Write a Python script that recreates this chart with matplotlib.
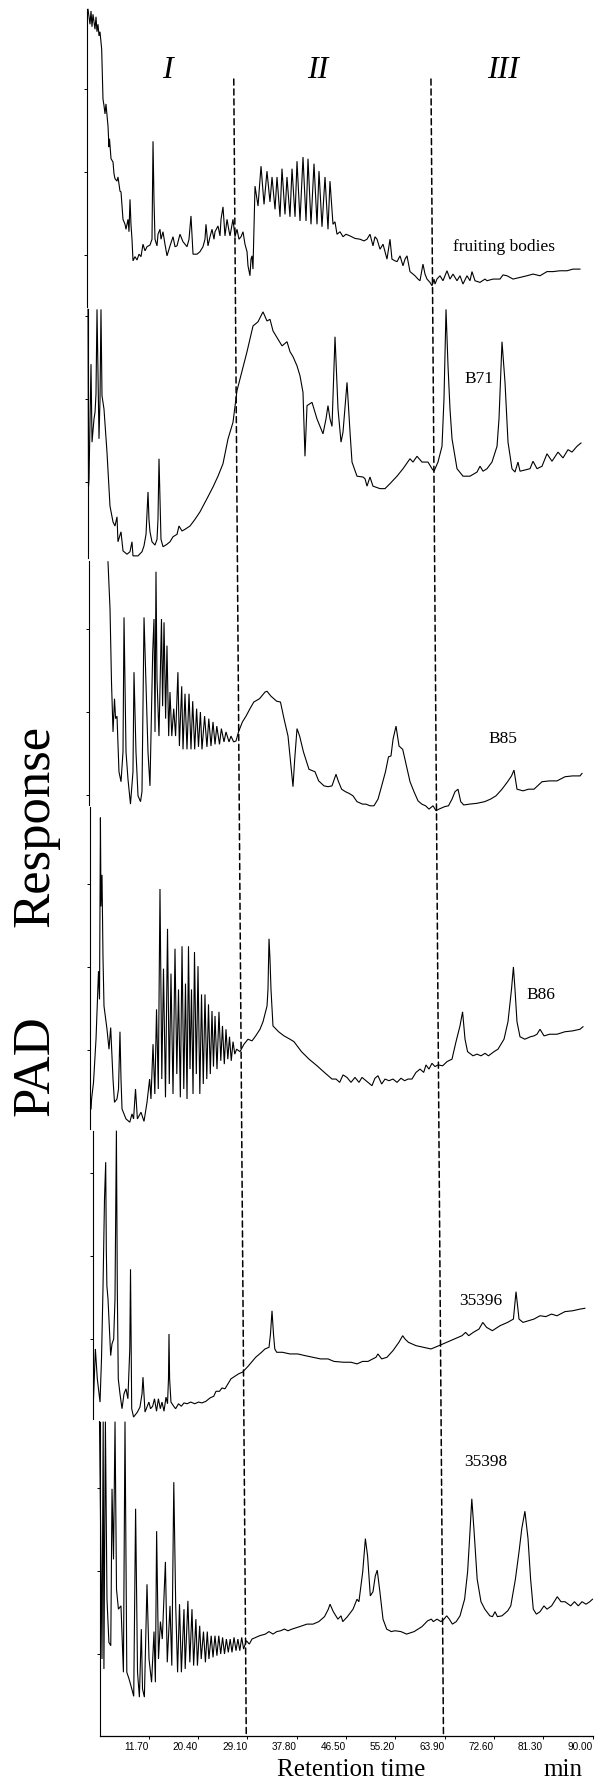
import matplotlib
matplotlib.use("Agg")
import matplotlib.pyplot as plt
from matplotlib.patches import ConnectionPatch

W, H = 599, 1781

# ---- retention-time axis -------------------------------------------------
t_start, t_end = 3.0, 90.0
xtick_values = [11.7, 20.4, 29.1, 37.8, 46.5, 55.2, 63.9, 72.6, 81.3, 90.0]
xtick_labels = ["11.70", "20.40", "29.10", "37.80", "46.50", "55.20",
                "63.90", "72.60", "81.30", "90.00"]
region_bounds = [28.9, 63.7]
region_names = ["I", "II", "III"]
sample_names = ["fruiting bodies", "B71", "B85", "B86", "35396", "35398"]

# ---- PAD traces (retention time in min, response in arbitrary units) ----
fb_time = [3.18, 3.53, 3.71, 3.88, 4.06, 4.41, 4.59, 4.76, 4.94, 5.12,
           5.29, 5.59, 5.82, 6.0, 6.18, 6.35, 6.71, 6.88, 6.97, 7.24,
           7.59, 7.76, 7.94, 8.29, 8.47, 8.82, 9.0, 9.35, 9.71, 9.88,
           10.24, 10.41, 10.59, 10.76, 10.94, 11.12, 11.47, 11.82, 12.18, 12.53,
           12.88, 13.24, 13.59, 14.12, 14.47, 14.65, 14.82, 15.0, 15.35, 15.53,
           15.88, 16.06, 16.41, 16.76, 17.12, 17.65, 18.18, 18.53, 18.88, 19.41,
           19.94, 20.65, 21.0, 21.35, 21.71, 22.41, 22.94, 23.47, 23.82, 24.0,
           24.35, 24.71, 25.06, 25.41, 25.59, 26.12, 26.47, 26.65, 27.0, 27.35,
           27.71, 28.06, 28.24, 28.76, 29.12, 29.47, 29.82, 30.18, 30.53, 30.88,
           31.24, 31.41, 31.76, 31.94, 32.12, 32.29, 32.65, 33.0, 33.18,
           33.71, 34.24, 34.76, 35.29, 35.65, 36.18, 36.53, 37.06, 37.41, 37.94,
           38.29, 38.82, 39.18, 39.71, 40.06, 40.59, 41.12, 41.65, 42.0, 42.53,
           43.06, 43.59, 43.94, 44.47, 45.0, 45.53, 45.88, 46.41,
           46.76, 47.12, 47.65, 48.18, 48.71, 49.41, 50.29, 51.18, 51.88, 52.41,
           52.94, 53.47, 53.82, 54.18, 54.71, 55.24, 55.94, 56.47, 56.82, 57.35,
           57.71, 58.24, 58.76, 59.12, 59.47, 60.0, 60.53, 60.88, 61.41, 61.76,
           62.29, 62.65, 63.0, 63.53, 63.88, 64.24, 64.41, 64.76, 65.29, 65.82,
           66.53, 67.06, 67.59, 68.29, 68.82, 69.35, 70.06, 70.59, 70.94, 71.47,
           72.35, 73.24, 73.59, 74.65, 75.88, 76.41, 77.12, 78.18, 79.41, 80.65,
           81.71, 82.94, 84.18, 85.24, 86.47, 87.71, 88.76, 90.0]
fb_resp = [39.6, 37.8, 39.4, 37.5, 39.0, 37.2, 38.7, 36.9, 37.8, 36.4,
           36.9, 34.8, 28.8, 28.0, 27.0, 28.2, 25.5, 23.0, 24.0, 21.6,
           21.2, 19.8, 19.2, 18.9, 19.4, 17.7, 17.6, 14.3, 13.7, 13.1,
           14.3, 12.8, 16.7, 13.7, 11.9, 9.3, 9.8, 9.4, 10.1, 9.8,
           11.3, 10.5, 11.0, 11.2, 11.9, 23.7, 16.7, 11.9, 11.1, 12.5,
           13.1, 11.9, 12.8, 11.3, 9.9, 11.1, 12.2, 11.0, 11.1, 12.5,
           11.6, 11.0, 11.9, 14.7, 10.1, 10.1, 10.4, 11.0, 11.9, 13.7,
           11.1, 12.2, 13.1, 11.9, 12.8, 13.5, 12.3, 14.3, 15.8, 12.3,
           14.3, 12.9, 12.3, 14.3, 12.2, 13.1, 11.9, 12.2, 12.8, 11.3,
           10.4, 8.7, 7.5, 9.5, 9.9, 8.3, 18.3, 16.7, 15.9,
           20.7, 16.1, 20.1, 16.4, 19.4, 15.5, 19.4, 14.6, 20.4, 14.9,
           19.4, 14.6, 20.4, 14.6, 21.3, 14.1, 21.8, 14.1, 21.6, 13.7,
           21.0, 13.7, 20.1, 13.4, 19.4, 13.1, 18.9, 13.7,
           14.0, 12.5, 12.8, 12.2, 12.5, 12.3, 12.0, 11.9, 11.7, 11.9,
           12.5, 11.1, 12.2, 11.9, 10.7, 11.3, 9.5, 11.9, 9.5, 9.3,
           9.2, 9.9, 8.7, 9.5, 9.9, 8.0, 7.7, 7.5, 7.1, 6.9,
           8.9, 7.7, 7.1, 6.7, 6.3, 7.1, 6.5, 7.1, 7.5, 6.9,
           8.1, 7.1, 7.7, 6.9, 7.5, 6.5, 7.5, 6.9, 8.0, 6.9,
           6.7, 7.1, 6.9, 7.1, 7.1, 7.6, 7.5, 7.1, 7.3, 7.5,
           7.7, 7.5, 8.0, 8.0, 8.1, 8.1, 8.3, 8.3]

b71_time = [3.0, 3.09, 3.18, 3.53, 3.71, 4.06, 4.24, 4.41, 4.59, 4.94,
            5.12, 5.29, 5.47, 5.82, 6.35, 6.88, 7.41, 7.76, 8.12, 8.29,
            8.82, 9.18, 9.88, 10.41, 10.76, 10.94, 11.82, 12.53, 12.88, 13.24,
            13.59, 13.76, 13.94, 14.29, 14.82, 15.18, 15.35, 15.53, 15.71, 15.88,
            16.24, 16.94, 17.47, 18.0, 18.71, 19.06, 19.59, 20.12, 21.0, 21.88,
            22.76, 24.0, 25.06, 25.94, 26.82, 27.71, 28.59, 29.29, 29.82, 31.06,
            32.12, 33.0, 33.88, 34.59, 35.12, 35.65, 36.53, 37.24, 38.12, 38.65,
            39.18, 39.88, 40.41, 40.94, 41.29, 41.65, 42.53, 43.41, 44.47, 45.0,
            45.35, 45.71, 46.06, 46.59, 47.12, 47.65, 48.0, 48.71, 49.24, 49.59,
            50.47, 51.53, 51.88, 52.24, 52.76, 53.29, 54.53, 55.41, 56.29, 57.53,
            58.59, 59.82, 60.35, 61.06, 61.94, 63.0, 63.71, 64.06, 64.76, 65.47,
            65.82, 66.18, 66.53, 66.88, 67.24, 68.12, 69.18, 70.41, 71.65, 72.18,
            72.71, 73.41, 74.29, 75.18, 75.53, 76.06, 76.59, 77.12, 77.82, 78.35,
            78.88, 79.24, 81.0, 81.53, 82.24, 83.12, 84.0, 84.88, 85.94, 86.82,
            87.71, 88.41, 89.29, 90.0]
b71_resp = [30.8, 9.5, 10.4, 24.2, 14.8, 17.6, 18.4, 20.6, 30.8, 15.2,
            20.0, 30.8, 20.4, 18.8, 13.6, 7.1, 5.2, 4.7, 5.8, 2.8,
            4.0, 1.7, 1.3, 1.6, 2.8, 1.1, 1.1, 1.6, 2.3, 3.7,
            8.8, 5.5, 4.0, 2.8, 2.4, 3.1, 5.5, 12.8, 8.0, 3.1,
            2.2, 2.5, 2.8, 3.4, 3.7, 4.7, 4.1, 4.3, 4.7, 5.5,
            6.4, 8.0, 9.4, 10.7, 12.2, 15.2, 17.2, 21.0, 22.4, 25.7,
            28.8, 29.3, 30.5, 29.4, 29.6, 28.2, 27.2, 26.4, 26.9, 25.7,
            25.1, 24.0, 22.8, 20.8, 13.1, 19.2, 19.6, 17.6, 15.8, 17.6,
            19.2, 17.6, 16.7, 27.5, 18.8, 14.8, 16.0, 22.0, 16.0, 12.4,
            10.7, 10.6, 10.4, 9.5, 10.6, 9.5, 9.2, 9.2, 9.8, 10.7,
            11.6, 12.8, 12.4, 13.1, 12.4, 12.4, 11.6, 11.3, 12.4, 14.3,
            20.0, 30.8, 24.0, 18.8, 15.2, 11.6, 10.7, 10.7, 11.2, 11.9,
            11.3, 11.6, 12.4, 14.3, 17.6, 26.9, 22.0, 14.8, 11.6, 11.2,
            12.4, 11.3, 11.6, 12.5, 11.6, 11.9, 13.4, 12.5, 13.6, 12.9,
            13.9, 13.6, 14.3, 14.7]

b85_time = [6.35, 6.71, 6.97, 7.24, 7.5, 7.69, 7.94, 8.29, 8.65, 9.0,
            9.18, 9.53, 9.88, 10.32, 10.76, 10.94, 11.29, 11.65, 12.09, 12.35,
            12.71, 13.06, 13.41, 13.76, 13.94, 14.24, 14.47, 14.65, 14.82, 15.0,
            15.35, 15.53, 15.79, 15.99, 16.24, 16.52, 16.76, 17.06, 17.29, 17.61,
            17.95, 18.28, 18.69, 18.95, 19.36, 19.59, 19.94, 20.29, 20.65, 21.0,
            21.3, 21.65, 21.99, 22.32, 22.66, 22.94, 23.4, 23.81, 24.14, 24.53,
            24.88, 25.24, 25.55, 26.03, 26.36, 26.82, 27.18, 27.71, 28.06, 28.52,
            28.94, 29.38, 30.07, 30.71, 31.41, 32.08, 33.09, 34.06, 34.41, 35.12,
            36.12, 36.79, 37.41, 38.12, 38.65, 39.0, 39.3, 39.71, 40.17, 40.84,
            41.82, 42.88, 43.53, 44.47, 45.18, 45.88, 46.59, 47.03, 47.58, 48.25,
            48.88, 49.59, 50.29, 51.28, 51.88, 52.59, 53.29, 54.0, 54.65, 55.32,
            55.85, 56.29, 56.65, 57.18, 57.71, 58.36, 59.03, 59.65, 60.35, 61.06,
            61.73, 62.4, 63.0, 63.71, 64.24, 64.76, 65.77, 66.44, 67.06, 67.59,
            68.12, 68.6, 69.12, 70.15, 71.47, 72.83, 73.85, 74.82, 75.88, 76.87,
            77.56, 78.0, 78.53, 79.59, 80.58, 81.53, 82.94, 84.28, 85.59, 87.0,
            88.32, 89.65, 90.0]
b85_resp = [38.1, 32.4, 23.6, 17.6, 21.6, 19.2, 19.5, 12.8, 11.6, 15.2,
            31.4, 15.2, 11.9, 8.9, 12.8, 24.8, 15.2, 9.9, 9.2, 10.4,
            31.4, 23.1, 15.2, 11.1, 17.1, 27.2, 31.2, 17.6, 36.9, 24.0,
            17.1, 23.1, 31.2, 20.7, 30.8, 19.2, 28.0, 17.1, 22.4, 17.1,
            20.4, 17.1, 24.8, 15.9, 23.1, 15.5, 22.2, 15.5, 22.2, 15.5,
            21.3, 15.5, 20.4, 15.8, 20.0, 15.5, 19.5, 15.8, 19.2, 15.9,
            18.8, 16.1, 18.3, 16.1, 18.0, 16.4, 17.6, 16.4, 17.1, 16.4,
            16.5, 17.6, 18.8, 19.5, 20.4, 21.2, 21.6, 22.4, 22.5, 21.9,
            21.3, 21.2, 19.2, 17.1, 13.5, 11.0, 14.3, 18.0, 17.1, 15.2,
            13.1, 12.8, 11.7, 11.1, 11.0, 11.1, 12.5, 11.6, 10.7, 10.4,
            10.2, 9.9, 9.2, 8.9, 8.9, 8.7, 8.7, 9.5, 11.1, 12.8,
            14.6, 14.7, 16.7, 18.3, 15.9, 15.5, 13.5, 11.6, 10.4, 9.3,
            8.9, 8.7, 8.3, 8.7, 8.1, 8.3, 8.6, 8.7, 9.5, 10.4,
            10.7, 9.2, 8.8, 8.9, 9.0, 9.2, 9.5, 9.9, 10.7, 11.6,
            12.3, 13.0, 10.7, 10.5, 10.7, 10.7, 11.6, 11.7, 11.7, 12.2,
            12.3, 12.3, 12.6]

b86_time = [3.18, 3.28, 3.62, 4.06, 4.5, 4.68, 4.84, 4.94, 5.12, 5.29,
            5.47, 6.0, 6.35, 6.65, 6.88, 7.06, 7.32, 7.76, 8.03, 8.29,
            8.47, 8.65, 9.35, 10.02, 10.41, 10.69, 11.03, 11.36, 12.0, 12.53,
            13.06, 13.52, 13.76,
            14.12, 14.44, 14.74, 15.05, 15.35, 15.67, 15.97, 16.32, 16.68, 16.99,
            17.29, 17.65, 18.0, 18.32, 18.62, 18.94, 19.24, 19.55, 19.85, 20.12,
            20.38, 20.65, 20.91, 21.18, 21.44, 21.76, 22.06, 22.38, 22.68, 22.99,
            23.29, 23.61, 23.91, 24.23, 24.53, 24.79, 25.06, 25.41, 25.76, 26.08,
            26.38, 26.7, 27.0, 27.32, 27.62, 27.93, 28.24, 28.55, 28.87,
            29.47, 30.18, 30.88, 31.59, 32.24, 33.0, 33.53, 34.24, 34.41, 34.59,
            34.76, 34.94, 35.29, 36.28, 37.24, 38.29, 39.0, 40.32, 41.65, 43.06,
            44.36, 45.71, 46.41, 47.06, 47.65, 48.35, 49.06, 49.76, 50.47, 51.0,
            51.71, 52.76, 53.29, 53.82, 54.47, 55.06, 55.76, 56.47, 57.18, 57.88,
            58.52, 59.12, 59.82, 60.53, 61.24, 61.89, 62.29, 62.82, 63.35, 63.88,
            64.41, 65.24, 66.0, 66.88, 67.59, 68.29, 68.75, 69.18, 69.63, 70.59,
            71.29, 72.0, 72.71, 73.32, 74.29, 75.0, 76.06, 76.76, 77.38, 77.72,
            78.0, 78.35, 78.88, 79.73, 80.74, 81.35, 81.88, 82.41, 83.12, 84.11,
            85.41, 86.82, 88.15, 89.47, 90.0]
b86_resp = [2.9, 4.1, 6.1, 11.3, 19.5, 16.1, 38.0, 27.3, 31.1, 21.3,
            15.3, 12.5, 10.1, 12.7, 9.3, 6.5, 3.7, 4.1, 5.3, 12.2,
            6.5, 2.9, 1.7, 1.3, 2.3, 1.7, 5.3, 1.7, 2.5, 1.4,
            3.7, 6.5, 4.1,
            10.7, 4.7, 14.9, 5.3, 29.4, 6.5, 19.8, 4.3, 24.6, 5.9,
            19.2, 4.7, 22.2, 7.1, 17.3, 4.3, 22.5, 5.3, 18.0, 4.1,
            22.5, 7.7, 17.3, 4.7, 21.8, 7.1, 20.1, 4.7, 16.7, 5.9,
            16.7, 6.5, 15.5, 7.1, 14.7, 8.0, 14.1, 7.7, 14.6, 8.7,
            12.9, 8.3, 12.5, 8.9, 11.6, 8.7, 11.0, 9.5, 10.1,
            9.8, 10.7, 11.3, 11.1, 11.7, 12.5, 13.4, 15.3, 17.3, 23.4,
            21.0, 17.3, 12.9, 12.2, 11.7, 11.3, 11.0, 9.8, 8.9, 8.1,
            7.3, 6.5, 6.5, 6.1, 7.0, 6.7, 6.1, 6.7, 6.1, 6.7,
            6.3, 5.7, 6.6, 6.9, 5.9, 6.5, 6.3, 6.5, 6.1, 6.6,
            6.3, 6.5, 6.5, 7.3, 7.7, 7.3, 8.2, 7.7, 8.4, 8.0,
            8.2, 8.1, 8.6, 8.9, 11.0, 12.9, 14.6, 11.3, 9.8, 9.3,
            9.5, 9.3, 9.6, 9.3, 9.8, 10.1, 11.3, 13.4, 17.3, 20.0,
            17.3, 13.4, 11.6, 11.3, 11.6, 11.7, 11.9, 12.5, 11.7, 11.9,
            11.9, 12.2, 12.3, 12.5, 12.8]

s35396_time = [3.09, 3.42, 3.76, 4.24, 4.5, 4.76, 5.03, 5.24, 5.35, 5.45,
               5.65, 5.82, 6.12, 6.35, 6.65, 6.88, 7.13, 7.29, 7.46, 7.76,
               8.12, 8.47, 8.82, 9.16, 9.49, 9.62, 9.74, 9.83, 10.16, 10.84,
               11.29, 11.65, 11.82, 12.0, 12.18, 12.86, 13.15, 13.53, 13.85, 14.21,
               14.54, 14.88, 15.18, 15.53, 15.88, 16.15, 16.32, 16.41, 16.52, 16.76,
               17.24, 17.58, 18.09, 18.58, 19.06, 19.59, 20.26, 20.95, 21.62, 22.24,
               22.94, 23.65, 24.3, 24.71, 25.32, 25.76, 26.29, 26.82, 27.35, 28.0,
               28.68, 29.37, 30.35, 31.71, 32.74, 33.35, 34.06, 34.32, 34.59, 34.85,
               35.08, 35.42, 36.42, 37.76, 39.12, 40.41, 41.82, 43.16, 44.47, 45.53,
               47.21, 48.53, 49.59, 50.58, 51.53, 52.94, 53.28, 53.95, 54.88, 55.94,
               56.98, 57.65, 58.06, 58.66, 60.0, 61.36, 62.65, 64.06, 65.4, 66.71,
               68.12, 68.75, 69.3, 70.11, 71.12, 71.79, 72.46, 73.48, 74.82, 76.16,
               77.19, 77.65, 78.18, 78.88, 79.87, 80.82, 81.88, 82.91, 83.91, 84.88,
               86.29, 87.62, 88.94, 89.8]
s35396_resp = [2.8, 8.8, 5.2, 2.4, 7.6, 16.0, 26.9, 31.3, 20.8, 16.4,
               14.8, 12.4, 8.0, 9.4, 10.0, 14.8, 35.1, 16.0, 5.2, 3.4,
               1.6, 3.4, 4.0, 2.8, 8.8, 18.4, 8.8, 1.6, 0.6, 1.2,
               1.8, 3.4, 5.4, 3.4, 1.2, 2.4, 1.6, 1.9, 2.8, 1.3,
               2.8, 1.6, 2.4, 1.3, 3.0, 2.2, 5.2, 10.6, 5.2, 2.4,
               1.9, 1.6, 2.2, 1.9, 2.3, 2.2, 2.4, 2.2, 2.4, 2.3,
               2.5, 2.9, 3.1, 3.7, 3.7, 4.1, 4.0, 4.6, 5.2, 5.5,
               5.8, 6.0, 6.7, 7.8, 8.4, 8.8, 9.0, 10.6, 13.4, 10.6,
               8.8, 8.4, 8.4, 8.2, 8.2, 8.0, 7.8, 7.6, 7.6, 7.3,
               7.2, 7.2, 7.0, 7.3, 7.3, 7.8, 8.2, 7.6, 7.8, 8.6,
               9.6, 10.4, 10.0, 9.6, 9.2, 9.0, 8.8, 9.2, 9.6, 10.0,
               10.4, 10.8, 10.4, 10.8, 11.2, 12.0, 11.4, 11.0, 11.6, 12.0,
               12.4, 15.7, 12.4, 12.0, 12.2, 12.4, 12.8, 12.7, 13.0, 12.8,
               13.3, 13.4, 13.6, 13.7]

s35398_time = [3.0, 3.44, 3.65, 3.78, 4.04, 4.32, 4.66, 4.99, 5.21, 5.47,
               5.74, 6.0, 6.34, 6.79, 7.22, 7.5, 7.82, 8.21, 8.7, 9.04,
               9.37, 9.71, 10.04, 10.38, 10.59, 10.92, 11.38, 11.74, 12.19, 12.62,
               12.86, 13.08, 13.41, 13.75, 14.08, 14.63, 14.96, 15.44, 15.76, 16.11,
               16.45, 16.78, 17.12, 17.45, 17.91, 18.12, 18.6, 18.94, 19.32, 19.61,
               20.01, 20.28, 20.68, 20.95, 21.35, 21.69, 22.02, 22.31, 22.71, 23.03,
               23.38, 23.72, 24.05, 24.39, 24.72, 25.06, 25.39, 25.73, 26.06, 26.38,
               26.74, 27.09, 27.42, 27.76, 28.09, 28.43, 28.91, 29.44, 29.91, 30.58,
               31.25, 32.28, 32.91, 33.62, 34.29, 34.96, 35.63, 36.26, 36.97, 38.33,
               39.62, 40.68, 41.7, 42.71, 43.38, 43.68, 44.26, 45.07, 45.62, 45.93,
               46.75, 47.74, 48.44, 48.78, 49.45, 49.92, 50.31, 50.79, 51.26, 51.67,
               52.01, 52.48, 53.03, 53.68, 54.49, 55.15, 56.19, 57.19, 58.53, 59.91,
               60.9, 61.57, 61.91, 62.56, 63.26, 63.79, 64.27, 64.73, 65.28, 65.95,
               66.62, 67.43, 67.96, 68.31, 68.7, 69.11, 69.65, 70.32, 71.0, 71.88,
               72.35, 72.8, 73.22, 74.03, 75.04, 75.58, 76.39, 77.03, 77.52, 78.07,
               78.62, 79.08, 79.55, 80.1, 80.74, 81.44, 81.97, 82.78, 83.79, 84.44,
               85.15, 86.15, 86.82, 87.49, 88.15, 88.85, 89.52, 90.0]
s35398_resp = [38.0, 9.4, 38.0, 8.2, 38.0, 16.6, 11.4, 11.0, 29.9, 21.4,
               38.0, 17.8, 15.4, 15.8, 7.8, 38.0, 7.8, 7.0, 5.8, 4.9,
               27.5, 7.8, 4.8, 13.0, 5.8, 4.8, 18.4, 9.4, 6.6, 12.7,
               6.6, 24.8, 9.4, 13.9, 11.8, 21.1, 9.0, 15.8, 8.6, 30.7,
               15.8, 7.8, 16.0, 7.8, 15.4, 8.2, 16.4, 9.0, 15.4, 8.6,
               14.2, 8.6, 13.4, 9.4, 12.7, 9.0, 12.7, 9.4, 12.2, 9.6,
               12.2, 9.8, 12.2, 10.0, 12.0, 10.0, 11.8, 10.2, 11.8, 10.2,
               12.0, 10.4, 11.8, 10.4, 12.0, 10.6, 11.6, 11.2, 11.8, 12.0,
               12.2, 12.4, 12.7, 12.4, 12.7, 12.8, 13.0, 12.8, 13.0, 13.3,
               13.6, 13.6, 13.9, 14.5, 15.4, 16.0, 15.1, 14.2, 14.6, 13.9,
               14.5, 15.4, 16.6, 16.3, 19.9, 23.9, 21.8, 17.0, 17.5, 19.4,
               20.1, 17.5, 14.2, 13.0, 12.7, 12.8, 12.7, 12.4, 12.7, 13.3,
               14.0, 14.2, 13.9, 14.2, 13.9, 14.2, 14.6, 14.2, 13.6, 13.9,
               14.6, 16.6, 19.9, 23.9, 28.7, 24.7, 19.0, 16.3, 15.4, 14.6,
               14.5, 15.1, 14.5, 14.6, 15.2, 15.8, 19.0, 22.3, 25.1, 27.2,
               23.9, 19.0, 15.4, 14.8, 15.1, 15.8, 15.4, 15.8, 16.9, 16.3,
               16.3, 15.8, 16.3, 15.8, 16.3, 16.0, 16.3, 16.6]

traces = [(fb_time, fb_resp), (b71_time, b71_resp), (b85_time, b85_resp),
          (b86_time, b86_resp), (s35396_time, s35396_resp),
          (s35398_time, s35398_resp)]

# ---- page layout (pixels on a 599 x 1781 canvas) --------------------------
# left edge, top, bottom, height of the response-10 gridline
panel_box = [(87.0, 10, 308, 256),
             (88.0, 310, 559, 483),
             (89.0, 562, 806, 796),
             (90.0, 808, 1130, 1051),
             (93.0, 1132, 1420, 1340),
             (99.5, 1423, 1737, 1655)]
px_per_unit = 8.3
axis_width_px = 493
sample_label_xy = [(504, 247), (479, 379), (503, 739), (541, 995),
                   (481, 1301), (486, 1462)]
region_label_xy = [(167, 70), (318, 70), (503, 70)]

serif = ["Liberation Serif", "DejaVu Serif"]
sans = ["Liberation Sans", "DejaVu Sans"]


def fx(x):
    return x / W


def fy(y):
    return 1 - y / H


fig = plt.figure(figsize=(W / 100, H / 100), dpi=100)
fig.patch.set_facecolor("white")

axes = []
for (left, top, bottom, y10), (t, r) in zip(panel_box, traces):
    ax = fig.add_axes([fx(left), fy(bottom), axis_width_px / W, (bottom - top) / H])
    ax.set_xlim(t_start, t_end)
    ax.set_ylim(10 - (bottom - y10) / px_per_unit, 10 + (y10 - top) / px_per_unit)
    ax.plot(t, r, color="black", lw=0.8, clip_on=False, solid_joinstyle="miter")
    for side in ("top", "right", "bottom"):
        ax.spines[side].set_visible(False)
    ax.spines["left"].set_linewidth(0.8)
    ax.set_yticks([10, 20, 30])
    ax.tick_params(axis="y", direction="out", length=2.2, width=0.7, labelleft=False)
    ax.set_xticks([])
    ax.patch.set_visible(False)
    axes.append(ax)

# retention-time axis on the bottom trace
axb = axes[-1]
axb.spines["bottom"].set_visible(True)
axb.spines["bottom"].set_linewidth(0.9)
axb.set_xticks(xtick_values)
axb.set_xticklabels(xtick_labels, fontsize=7.2, family=sans, ha="right")
axb.tick_params(axis="x", direction="out", length=2, width=0.7, pad=1.5)

# boundaries between the three elution regions
top_frac = (panel_box[0][2] - 80) / (panel_box[0][2] - panel_box[0][1])
for tb in region_bounds:
    con = ConnectionPatch(xyA=(tb, top_frac), coordsA=axes[0].get_xaxis_transform(),
                          xyB=(tb, 0), coordsB=axes[-1].get_xaxis_transform(),
                          color="black", lw=1.1, linestyle=(0, (4, 2.5)))
    fig.add_artist(con)

for name, (x, y) in zip(region_names, region_label_xy):
    fig.text(fx(x), fy(y), name, family=serif, style="italic", fontsize=23,
             ha="center", va="center")

for name, (x, y) in zip(sample_names, sample_label_xy):
    fig.text(fx(x), fy(y), name, family=serif, fontsize=12.5,
             ha="center", va="center")

fig.text(fx(351), fy(1770), "Retention time", family=serif, fontsize=18,
         ha="center", va="center")
fig.text(fx(563), fy(1770), "min", family=serif, fontsize=18,
         ha="center", va="center")
fig.text(fx(35), fy(826), "Response", family=serif, fontsize=38,
         rotation=90, ha="center", va="center")
fig.text(fx(35), fy(1066), "PAD", family=serif, fontsize=38,
         rotation=90, ha="center", va="center")

fig.savefig("out.png", dpi=100, facecolor="white")
